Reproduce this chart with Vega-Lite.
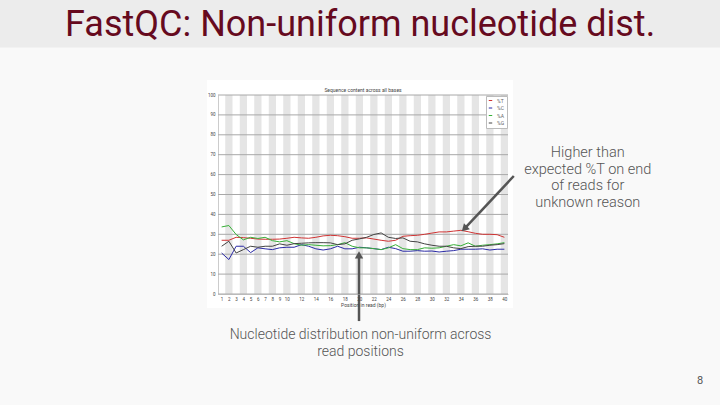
{
  "$schema": "https://vega.github.io/schema/vega-lite/v6.json",
  "autosize": "none",
  "width": 290,
  "height": 199,
  "padding": {"left": 218, "top": 95, "right": 212, "bottom": 111},
  "background": "#f9f9f9",
  "config": {
    "font": "Roboto",
    "view": {"stroke": null},
    "scale": {"continuousPadding": 0}
  },
  "datasets": {
    "seq": [
      {"pos": 1, "T": 27.0, "C": 20.6, "A": 33.7, "G": 24.0},
      {"pos": 2, "T": 27.0, "C": 17.3, "A": 34.4, "G": 26.5},
      {"pos": 3, "T": 28.5, "C": 24.0, "A": 29.9, "G": 20.6},
      {"pos": 4, "T": 28.3, "C": 24.0, "A": 27.2, "G": 22.3},
      {"pos": 5, "T": 28.0, "C": 20.8, "A": 28.5, "G": 24.0},
      {"pos": 6, "T": 27.6, "C": 23.2, "A": 27.9, "G": 23.5},
      {"pos": 7, "T": 27.5, "C": 22.7, "A": 28.5, "G": 24.0},
      {"pos": 8, "T": 27.5, "C": 22.3, "A": 26.8, "G": 24.0},
      {"pos": 9, "T": 27.6, "C": 23.2, "A": 26.2, "G": 25.2},
      {"pos": 10, "T": 28.0, "C": 23.5, "A": 26.8, "G": 24.5},
      {"pos": 11, "T": 28.5, "C": 23.5, "A": 25.3, "G": 25.3},
      {"pos": 12, "T": 28.2, "C": 24.8, "A": 24.5, "G": 25.5},
      {"pos": 13, "T": 28.0, "C": 24.0, "A": 24.8, "G": 25.7},
      {"pos": 14, "T": 28.5, "C": 22.7, "A": 24.5, "G": 25.8},
      {"pos": 15, "T": 29.2, "C": 22.1, "A": 24.2, "G": 25.8},
      {"pos": 16, "T": 29.5, "C": 22.7, "A": 24.3, "G": 25.7},
      {"pos": 17, "T": 29.3, "C": 24.0, "A": 24.8, "G": 24.8},
      {"pos": 18, "T": 28.8, "C": 22.7, "A": 25.8, "G": 25.2},
      {"pos": 19, "T": 28.0, "C": 22.7, "A": 24.0, "G": 27.0},
      {"pos": 20, "T": 28.0, "C": 23.5, "A": 23.2, "G": 27.7},
      {"pos": 21, "T": 28.2, "C": 23.2, "A": 23.2, "G": 28.5},
      {"pos": 22, "T": 27.6, "C": 22.8, "A": 22.8, "G": 29.9},
      {"pos": 23, "T": 27.0, "C": 22.3, "A": 22.3, "G": 30.7},
      {"pos": 24, "T": 26.5, "C": 23.5, "A": 23.2, "G": 28.5},
      {"pos": 25, "T": 27.0, "C": 22.8, "A": 24.8, "G": 27.9},
      {"pos": 26, "T": 29.0, "C": 21.5, "A": 22.8, "G": 28.2},
      {"pos": 27, "T": 29.3, "C": 21.5, "A": 22.3, "G": 26.5},
      {"pos": 28, "T": 29.5, "C": 21.8, "A": 22.3, "G": 26.2},
      {"pos": 29, "T": 30.0, "C": 21.5, "A": 23.2, "G": 25.2},
      {"pos": 30, "T": 30.6, "C": 21.6, "A": 23.0, "G": 24.5},
      {"pos": 31, "T": 31.2, "C": 21.1, "A": 23.2, "G": 24.0},
      {"pos": 32, "T": 31.2, "C": 21.5, "A": 24.0, "G": 24.0},
      {"pos": 33, "T": 31.6, "C": 21.8, "A": 24.8, "G": 23.2},
      {"pos": 34, "T": 32.0, "C": 22.5, "A": 24.2, "G": 22.8},
      {"pos": 35, "T": 31.3, "C": 22.5, "A": 25.7, "G": 23.8},
      {"pos": 36, "T": 30.5, "C": 22.5, "A": 24.0, "G": 24.0},
      {"pos": 37, "T": 30.0, "C": 22.7, "A": 24.5, "G": 24.0},
      {"pos": 38, "T": 30.0, "C": 22.1, "A": 24.8, "G": 24.5},
      {"pos": 39, "T": 29.8, "C": 22.5, "A": 25.2, "G": 24.8},
      {"pos": 40, "T": 28.5, "C": 22.5, "A": 25.8, "G": 25.3}
    ],
    "gridlines": [
      {"level": 0}, {"level": 10}, {"level": 20}, {"level": 30}, {"level": 40}, {"level": 50},
      {"level": 60}, {"level": 70}, {"level": 80}, {"level": 90}, {"level": 100}
    ]
  },
  "layer": [
    {
      "data": {"values": [{"part": "header"}]},
      "mark": {"type": "rect", "color": "#ececec"},
      "encoding": {
        "x": {"datum": -40},
        "x2": {"datum": 80},
        "y": {"datum": 123.9},
        "y2": {"datum": 170}
      }
    },
    {
      "data": {"values": [{"part": "chart box"}]},
      "mark": {"type": "rect", "color": "white"},
      "encoding": {
        "x": {"datum": -1.02},
        "x2": {"datum": 41.2},
        "y": {"datum": -7.0},
        "y2": {"datum": 107.5}
      }
    },
    {
      "data": {"name": "seq"},
      "transform": [{"filter": "datum.pos % 2 == 0"}],
      "mark": {"type": "bar", "size": 7.25, "color": "#e5e5e5"},
      "encoding": {
        "x": {"field": "pos", "type": "quantitative"},
        "y": {"datum": 0},
        "y2": {"datum": 100}
      }
    },
    {
      "data": {"name": "gridlines"},
      "mark": {"type": "rule", "color": "#a8a8a8", "strokeWidth": 1},
      "encoding": {
        "y": {"field": "level", "type": "quantitative"}
      }
    },
    {
      "data": {"name": "seq"},
      "transform": [{"fold": ["T", "C", "A", "G"], "as": ["base", "pct"]}],
      "mark": {"type": "line", "strokeWidth": 1},
      "encoding": {
        "x": {
          "field": "pos",
          "type": "quantitative",
          "scale": {"domain": [0.5, 40.5], "nice": false, "zero": false, "padding": 0},
          "axis": {
            "title": "Position in read (bp)",
            "titleFontSize": 5,
            "titleFontWeight": "normal",
            "titleColor": "#444",
            "titlePadding": 2,
            "values": [1, 2, 3, 4, 5, 6, 7, 8, 9, 10, 12, 14, 16, 18, 20, 22, 24, 26, 28, 30, 32, 34, 36, 38, 40],
            "tickCount": 60,
            "format": "d",
            "labelFontSize": 4.5,
            "labelColor": "#444",
            "labelPadding": 2,
            "labelAngle": 0,
            "labelOverlap": false,
            "labelBound": false,
            "labelFlush": false,
            "ticks": false,
            "grid": false,
            "domainColor": "#aaa",
            "domainWidth": 0.6,
            "zindex": 1
          }
        },
        "y": {
          "field": "pct",
          "type": "quantitative",
          "scale": {"domain": [0, 100], "nice": false, "zero": true, "padding": 0},
          "axis": {
            "title": null,
            "values": [0, 10, 20, 30, 40, 50, 60, 70, 80, 90, 100],
            "tickCount": 20,
            "format": "d",
            "labelFontSize": 4.5,
            "labelColor": "#444",
            "labelPadding": 3,
            "labelOverlap": false,
            "labelBound": false,
            "labelFlush": false,
            "ticks": false,
            "grid": false,
            "domainColor": "#aaa",
            "domainWidth": 0.6,
            "zindex": 1
          }
        },
        "color": {
          "field": "base",
          "type": "nominal",
          "scale": {"domain": ["T", "C", "A", "G"], "range": ["#d03434", "#2b2ba6", "#38b038", "#444444"]},
          "legend": {
            "title": null,
            "orient": "top-right",
            "offset": 1,
            "labelExpr": "'%' + datum.label",
            "labelFontSize": 5,
            "labelColor": "#666",
            "symbolType": "stroke",
            "symbolSize": 12,
            "symbolStrokeWidth": 1,
            "rowPadding": 1.5,
            "padding": 2,
            "fillColor": "white",
            "strokeColor": "#bbb"
          }
        }
      }
    },
    {
      "data": {"values": [{"t": "Sequence content across all bases"}]},
      "mark": {"type": "text", "fontSize": 5, "color": "#444", "baseline": "middle"},
      "encoding": {
        "x": {"datum": 20.5},
        "y": {"datum": 102.5},
        "text": {"field": "t"}
      }
    },
    {
      "data": {"values": [{"t": "FastQC: Non-uniform nucleotide dist."}]},
      "mark": {"type": "text", "fontSize": 36, "color": "#660a1e", "baseline": "alphabetic"},
      "encoding": {
        "x": {"datum": 20.1},
        "y": {"datum": 129.4},
        "text": {"field": "t"}
      }
    },
    {
      "data": {"values": [{"t": "Higher than\nexpected %T on end\nof reads for\nunknown reason"}]},
      "mark": {"type": "text", "fontSize": 14.5, "fontWeight": 300, "color": "#555", "baseline": "middle", "lineBreak": "\n", "lineHeight": 16.7},
      "encoding": {
        "x": {"datum": 51.5},
        "y": {"datum": 70.9},
        "text": {"field": "t"}
      }
    },
    {
      "data": {"values": [{"t": "Nucleotide distribution non-uniform across\nread positions"}]},
      "mark": {"type": "text", "fontSize": 14, "fontWeight": 300, "color": "#555", "baseline": "middle", "lineBreak": "\n", "lineHeight": 17},
      "encoding": {
        "x": {"datum": 20.16},
        "y": {"datum": -20.6},
        "text": {"field": "t"}
      }
    },
    {
      "data": {"values": [{"t": "8"}]},
      "mark": {"type": "text", "fontSize": 11, "color": "#555", "baseline": "middle"},
      "encoding": {
        "x": {"datum": 67.0},
        "y": {"datum": -43.7},
        "text": {"field": "t"}
      }
    },
    {
      "data": {"values": [{"arrow": "T end"}]},
      "mark": {"type": "rule", "color": "#555", "strokeWidth": 2.5},
      "encoding": {
        "x": {"datum": 41.3},
        "y": {"datum": 59.3},
        "x2": {"datum": 34.6},
        "y2": {"datum": 33.2}
      }
    },
    {
      "data": {"values": [{"arrow": "T end"}]},
      "mark": {"type": "point", "shape": "triangle", "angle": 225, "size": 70, "filled": true, "opacity": 1, "color": "#555"},
      "encoding": {
        "x": {"datum": 34.6},
        "y": {"datum": 33.2}
      }
    },
    {
      "data": {"values": [{"arrow": "positions"}]},
      "mark": {"type": "rule", "color": "#555", "strokeWidth": 2.5},
      "encoding": {
        "x": {"datum": 19.95},
        "y": {"datum": -13.6},
        "x2": {"datum": 19.95},
        "y2": {"datum": 19.1}
      }
    },
    {
      "data": {"values": [{"arrow": "positions"}]},
      "mark": {"type": "point", "shape": "triangle", "angle": 0, "size": 70, "filled": true, "opacity": 1, "color": "#555"},
      "encoding": {
        "x": {"datum": 19.95},
        "y": {"datum": 19.1}
      }
    }
  ]
}
